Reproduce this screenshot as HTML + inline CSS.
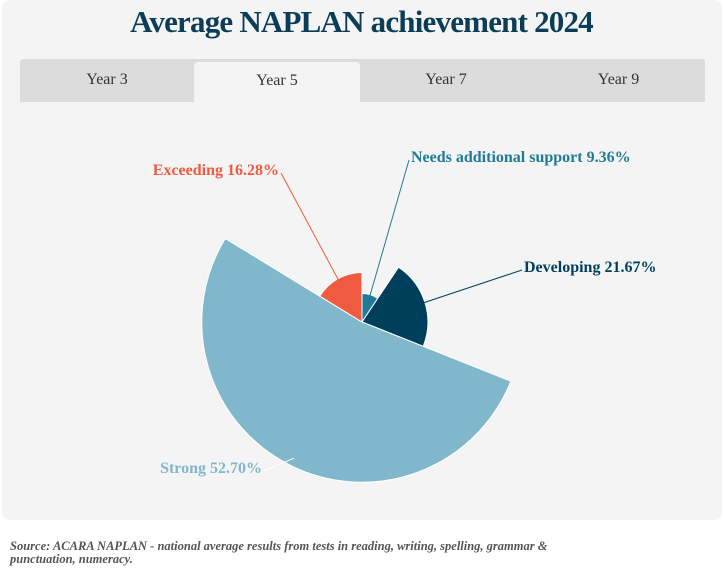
<!DOCTYPE html>
<html><head><meta charset="utf-8"><style>
body{margin:0;width:723px;height:570px;background:#fff;font-family:"Liberation Serif",serif;overflow:hidden}
#card{position:absolute;left:2px;top:0;width:720px;height:520px;background:#f4f4f4;border-radius:8px}
#title{position:absolute;left:0;top:4px;width:723px;text-align:center;font-size:31px;font-weight:bold;color:#0b3d57;letter-spacing:-0.8px}
#tabs{position:absolute;left:20px;top:59px;width:685px;height:43px;background:#dcdcdc;border-radius:3px 3px 0 0}
.tab{position:absolute;top:0;height:43px;line-height:42px;text-align:center;font-size:16px;color:#333}
.tab.active{background:#f4f4f4;border-radius:4px 4px 0 0;top:3px;height:40px;line-height:38px}
#src{position:absolute;left:10px;top:540px;font-size:12.5px;font-style:italic;font-weight:bold;color:#555;line-height:13px;width:585px}
svg{position:absolute;left:0;top:0}
</style></head><body>
<div id="card"></div>
<div id="title">Average NAPLAN achievement 2024</div>
<div id="tabs">
<div class="tab" style="left:0;width:174px">Year 3</div>
<div class="tab active" style="left:174px;width:166px">Year 5</div>
<div class="tab" style="left:340px;width:172px">Year 7</div>
<div class="tab" style="left:512px;width:173px">Year 9</div>
</div>
<svg id="chart" width="723" height="570"></svg>
<div id="src">Source: ACARA NAPLAN - national average results from tests in reading, writing, spelling, grammar &amp; punctuation, numeracy.</div>
<script>
const categories=["Needs additional support","Developing","Strong","Exceeding"];
const values=[9.36,21.67,52.70,16.28];
const colors=["#207b98","#003f5c","#80b7ca","#ef5a41"];
const labelPos=[[411,156,"start"],[524,266,"start"],[262,467,"end"],[279,169,"end"]];
const svg=document.getElementById('chart');
const NS="http://www.w3.org/2000/svg";
const cx=362,cy=322,k=3.04;
const total=values.reduce((a,b)=>a+b,0);
function pt(a,r){return [cx+r*Math.sin(a),cy-r*Math.cos(a)];}
let a0=0;
values.forEach((v,i)=>{
  const a1=a0+v/total*2*Math.PI, r=v*k;
  const p0=pt(a0,r),p1=pt(a1,r);
  const large=(a1-a0)>Math.PI?1:0;
  const p=document.createElementNS(NS,'path');
  p.setAttribute('d',`M${cx},${cy}L${p0[0]},${p0[1]}A${r},${r} 0 ${large} 1 ${p1[0]},${p1[1]}Z`);
  p.setAttribute('fill',colors[i]);p.setAttribute('stroke','#fff');p.setAttribute('stroke-width','1');
  
  
  svg.appendChild(p);
  const am=(a0+a1)/2, e=pt(am,r*0.95);
  const lp=labelPos[i];
  const ln=document.createElementNS(NS,'line');
  ln.setAttribute('x1',e[0]);ln.setAttribute('y1',e[1]);ln.setAttribute('x2',lp[0]-(lp[2]=="start"?2:-2));ln.setAttribute('y2',lp[1]+4);
  ln.setAttribute('stroke',i==2?'#fff':colors[i]);ln.setAttribute('stroke-width','1');
  
  
  svg.appendChild(ln);
  const t=document.createElementNS(NS,'text');
  t.setAttribute('x',lp[0]);t.setAttribute('y',lp[1]+6);t.setAttribute('text-anchor',lp[2]);
  t.setAttribute('fill',colors[i]);t.setAttribute('font-size','16');t.setAttribute('font-weight','bold');
  t.setAttribute('font-family','Liberation Serif, serif');
  t.textContent=categories[i]+' '+v.toFixed(2)+'%';
  
  
  svg.appendChild(t);
  a0=a1;
});
</script>
</body></html>
